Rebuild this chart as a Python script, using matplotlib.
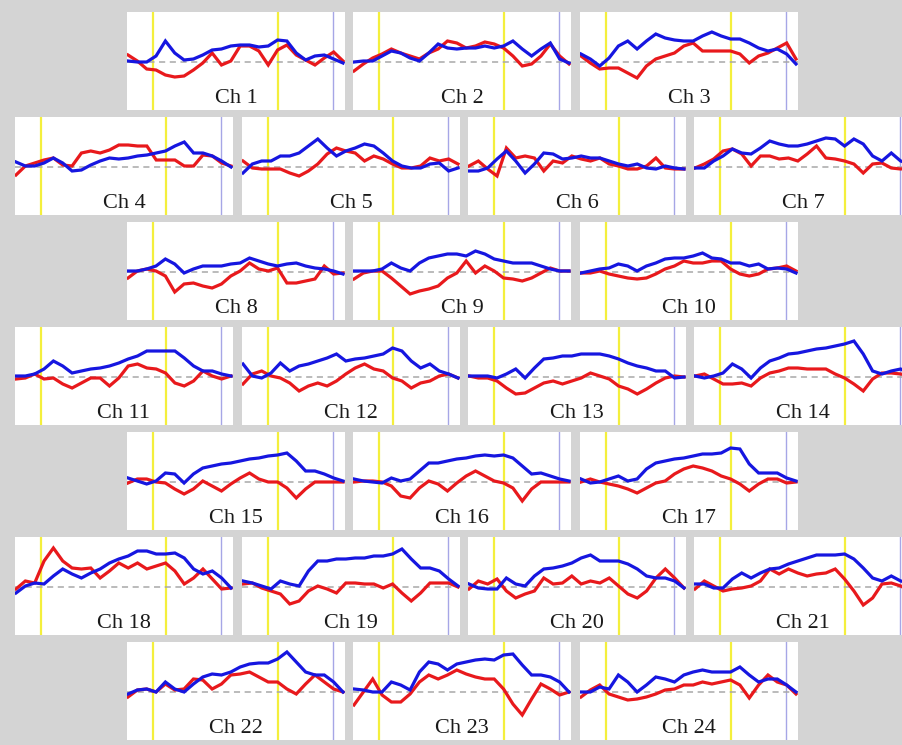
import numpy as np
import matplotlib
matplotlib.use("Agg")
import matplotlib.pyplot as plt

# ---- data: signal change per channel (arbitrary units), sampled on a common time grid ----
time_s = np.linspace(-5, 38, 24)
task_onset, task_offset, post_end = 0.0, 25.0, 36.0

red_ch1 = [7, 1, -7, -8, -13, -15, -14, -8, -1, 9, -3, 1, 16, 16, 11, -3, 12, 17, 7, 2, -3, 4, 10, 1]
blue_ch1 = [1, 0, 0, 6, 21, 9, 2, 3, 7, 12, 13, 16, 17, 17, 15, 16, 22, 21, 9, 2, 6, 7, 3, -1]
red_ch2 = [-9, -2, 4, 8, 13, 9, 6, 3, 9, 13, 21, 19, 14, 16, 20, 18, 14, 6, -4, -2, 6, 18, 6, -2]
blue_ch2 = [0, 1, 1, 6, 11, 9, 4, 1, 9, 18, 14, 13, 14, 14, 16, 14, 16, 21, 13, 6, 13, 19, 3, -1]
red_ch3 = [6, -1, -7, -6, -6, -11, -16, -4, 3, 6, 9, 16, 19, 11, 11, 11, 11, 8, -1, 6, 9, 14, 19, 3]
blue_ch3 = [8, 3, -4, 4, 16, 21, 13, 21, 28, 24, 22, 21, 21, 26, 30, 26, 23, 23, 19, 14, 11, 13, 8, -2]
red_ch4 = [-8, 1, 4, 7, 9, 2, 1, 14, 16, 14, 17, 22, 22, 21, 21, 7, 7, 7, 1, 1, 12, 11, 4, 1]
blue_ch4 = [5, 1, 1, 4, 9, 4, -4, -3, 2, 6, 9, 8, 9, 11, 12, 14, 16, 21, 25, 14, 14, 11, 6, 0]
red_ch5 = [6, -1, -2, -2, -2, -6, -9, -4, 3, 13, 19, 16, 14, 6, 11, 8, 3, -1, -1, 1, 9, 6, 8, 3]
blue_ch5 = [-6, 3, 6, 6, 11, 11, 14, 21, 28, 19, 11, 16, 19, 23, 21, 14, 6, 1, -1, -1, 3, 4, -4, -1]
red_ch6 = [1, 6, -2, -9, 19, 9, 11, 9, -4, 6, 4, 11, 8, 6, 9, 3, 1, -2, -2, 1, 9, -1, -2, -2]
blue_ch6 = [-4, -4, -1, 8, 16, 6, -6, 3, 14, 13, 8, 9, 11, 9, 9, 6, 3, 1, 3, -1, -2, 1, -1, -2]
red_ch7 = [-1, 3, 8, 16, 18, 13, 1, 11, 11, 8, 9, 6, 13, 21, 9, 8, 6, 3, -6, 3, 4, -1, -2, -1]
blue_ch7 = [-1, -1, 6, 11, 18, 14, 13, 19, 26, 23, 21, 21, 23, 26, 29, 28, 21, 28, 23, 11, 6, 14, 6, 3]
red_ch8 = [-6, 1, 3, 1, -4, -20, -12, -11, -14, -16, -12, -4, 1, 9, 3, 1, 4, -11, -11, -9, -7, 6, -2, -1]
blue_ch8 = [1, 1, 3, 6, 13, 8, -1, 3, 6, 6, 6, 8, 9, 14, 11, 8, 6, 8, 9, 6, 4, 3, 1, -2]
red_ch9 = [-7, -1, 1, 1, -6, -14, -22, -19, -17, -14, -6, -1, 11, -1, 6, 1, -6, -7, -9, -6, -1, 4, 1, 1]
blue_ch9 = [1, 1, 1, 3, 9, 4, 1, 9, 14, 16, 18, 18, 16, 21, 18, 13, 11, 9, 9, 9, 6, 3, 1, 1]
red_ch10 = [-1, -1, 1, -2, -4, -6, -7, -6, -2, 3, 6, 11, 9, 9, 11, 11, 3, -2, -4, -2, 3, 4, 6, 1]
blue_ch10 = [-1, 1, 3, 4, 8, 6, 1, 6, 9, 13, 14, 14, 16, 19, 14, 13, 9, 9, 6, 8, 3, 4, 3, -1]
red_ch11 = [-2, -1, 3, -2, -1, -7, -11, -6, -1, -1, -9, -1, 11, 13, 9, 8, 4, -6, -9, -4, 6, 1, -2, 1]
blue_ch11 = [1, 1, 3, 8, 16, 11, 4, 6, 8, 9, 11, 14, 18, 21, 26, 26, 26, 26, 19, 11, 6, 6, 3, 1]
red_ch12 = [-7, 3, 6, 1, -1, -6, -14, -9, -6, -9, -4, 3, 9, 13, 8, 6, -1, -4, -11, -6, -4, 1, 3, -1]
blue_ch12 = [13, 1, -1, 4, 14, 6, 11, 13, 16, 19, 23, 16, 18, 19, 21, 23, 29, 26, 16, 9, 13, 6, 3, -1]
red_ch13 = [1, -1, -1, -4, -11, -17, -16, -11, -6, -4, -7, -4, -1, 4, 1, -2, -9, -12, -17, -12, -6, -1, 1, 0]
blue_ch13 = [1, 1, 1, -1, 3, 8, -1, 9, 18, 19, 21, 21, 23, 23, 23, 21, 18, 14, 11, 9, 6, 6, -1, 0]
red_ch14 = [1, 3, -2, -7, -7, -6, -9, -1, 4, 6, 9, 9, 8, 8, 8, 3, -1, -7, -14, -2, 4, 4, 3, 1]
blue_ch14 = [1, -1, 1, 4, 13, 8, -1, 9, 16, 19, 23, 24, 26, 28, 29, 31, 33, 36, 23, 6, 3, 6, 8, 3]
red_ch15 = [-1, 3, 3, 0, -1, -7, -12, -7, 1, -4, -9, -2, 4, 9, 3, 0, 0, -6, -16, -7, 0, 0, 0, 0]
blue_ch15 = [4, 1, -2, 1, 9, 8, -1, 8, 14, 16, 18, 19, 21, 23, 24, 26, 27, 29, 21, 11, 11, 8, 4, 1]
red_ch16 = [0, 1, 1, 0, -4, -14, -16, -6, 1, -2, -9, -1, 6, 11, 6, 1, -1, -6, -19, -7, 0, 0, 0, 0]
blue_ch16 = [3, 1, 0, -1, 4, 1, 3, 11, 19, 19, 21, 23, 24, 26, 27, 26, 27, 24, 16, 8, 9, 6, 3, 1]
red_ch17 = [0, 3, 0, -2, -4, -7, -11, -6, -1, 1, 8, 13, 16, 14, 11, 6, 3, -2, -9, -2, 3, 3, -1, 0]
blue_ch17 = [3, -1, 0, 3, 6, 1, 3, 13, 19, 21, 23, 24, 26, 28, 28, 29, 34, 33, 18, 9, 9, 9, 4, 1]
red_ch18 = [-2, 6, 4, 26, 39, 26, 19, 18, 19, 9, 16, 24, 19, 24, 18, 21, 24, 16, 3, 9, 18, 8, -2, -1]
blue_ch18 = [-6, 1, 4, 3, 11, 18, 13, 9, 14, 18, 24, 28, 31, 36, 36, 33, 33, 34, 29, 18, 13, 16, 9, -1]
red_ch19 = [3, 4, -1, -4, -7, -17, -14, -4, 1, -2, -6, 4, 4, 3, 3, -1, 3, -6, -14, -6, 4, 4, 4, 0]
blue_ch19 = [6, 4, 1, -2, 6, 3, 1, 16, 26, 26, 28, 28, 29, 29, 31, 31, 33, 38, 28, 19, 19, 16, 8, 1]
red_ch20 = [-2, 6, 3, 8, -4, -11, -7, -4, 9, 3, 4, 11, 3, 6, 4, 9, 1, -7, -11, -4, 9, 18, 9, -1]
blue_ch20 = [3, -1, -2, -2, 9, 3, 1, 11, 18, 19, 21, 24, 29, 32, 26, 26, 26, 23, 18, 11, 9, 9, 6, -1]
red_ch21 = [-2, 6, 1, -4, -2, -1, 1, 6, 18, 13, 18, 14, 11, 13, 14, 18, 8, -4, -18, -11, 3, 4, 1, -4]
blue_ch21 = [3, 3, -1, -1, 8, 14, 9, 14, 18, 19, 23, 26, 29, 32, 32, 32, 33, 28, 19, 9, 6, 11, 6, 4]
red_ch22 = [-5, 2, 3, 0, 8, 2, 3, 13, 12, 3, 8, 17, 18, 20, 15, 10, 10, 3, -2, 8, 17, 10, 3, 0]
blue_ch22 = [-2, 2, 3, 0, 10, 3, 0, 8, 15, 18, 17, 20, 25, 28, 29, 29, 33, 40, 30, 20, 17, 17, 10, 0]
red_ch23 = [-13, 0, 13, -3, -10, -10, -2, 10, 17, 13, 17, 22, 18, 15, 13, 13, 3, -12, -23, -7, 8, 3, -3, 0]
blue_ch23 = [3, 2, 0, 0, 10, 7, 2, 20, 30, 28, 22, 28, 30, 32, 33, 32, 37, 38, 27, 17, 17, 15, 10, 0]
red_ch24 = [-5, 2, 7, -2, -5, -8, -7, -5, -2, 2, 3, 7, 7, 10, 8, 10, 12, 7, -6, 7, 17, 10, 7, -2]
blue_ch24 = [0, 0, 5, 3, 17, 10, 0, 7, 15, 13, 10, 17, 20, 22, 20, 20, 20, 25, 17, 10, 13, 13, 7, 0]

channel_labels = [f"Ch {i}" for i in range(1, 25)]
red_series = [red_ch1, red_ch2, red_ch3, red_ch4, red_ch5, red_ch6, red_ch7, red_ch8,
              red_ch9, red_ch10, red_ch11, red_ch12, red_ch13, red_ch14, red_ch15, red_ch16,
              red_ch17, red_ch18, red_ch19, red_ch20, red_ch21, red_ch22, red_ch23, red_ch24]
blue_series = [blue_ch1, blue_ch2, blue_ch3, blue_ch4, blue_ch5, blue_ch6, blue_ch7, blue_ch8,
               blue_ch9, blue_ch10, blue_ch11, blue_ch12, blue_ch13, blue_ch14, blue_ch15, blue_ch16,
               blue_ch17, blue_ch18, blue_ch19, blue_ch20, blue_ch21, blue_ch22, blue_ch23, blue_ch24]

# ---- layout (pixels) ----
W, H = 903, 745
row_tops = [12, 117, 222, 327, 432, 537, 642]
lefts3 = [127, 353, 580]
lefts4 = [15, 242, 468, 694]
PW, PH = 218, 98

fig = plt.figure(figsize=(W / 100, H / 100), dpi=100, facecolor="#d4d4d4")

positions = []
for r, top in enumerate(row_tops):
    lefts = lefts3 if r % 2 == 0 else lefts4
    for left in lefts:
        positions.append((left, top))

for k, (left, top) in enumerate(positions):
    ax = fig.add_axes([left / W, 1 - (top + PH) / H, PW / W, PH / H])
    ax.set_facecolor("white")
    ax.set_xlim(-5.2, -5.2 + PW / 5.0)
    ax.set_ylim(-48, 50)
    for s in ax.spines.values():
        s.set_visible(False)
    ax.set_xticks([])
    ax.set_yticks([])
    ax.axvline(task_onset, color="#f4ef3c", lw=1.6, zorder=1)
    ax.axvline(task_offset, color="#f4ef3c", lw=1.6, zorder=1)
    ax.axvline(post_end, color="#a6a6e6", lw=1.0, zorder=1)
    ax.axhline(0, color="#a8a8a8", lw=1.1, ls=(0, (4, 3)), zorder=2)
    ax.plot(time_s, red_series[k], color="#e8191c", lw=2.3, zorder=3,
            solid_joinstyle="miter")
    ax.plot(time_s, blue_series[k], color="#1616e0", lw=2.3, zorder=4,
            solid_joinstyle="miter")
    ax.text(0.5, 0.075, channel_labels[k], transform=ax.transAxes,
            ha="center", va="baseline", fontsize=16,
            family=["Liberation Serif", "DejaVu Serif"], color="#1a1a1a")

fig.savefig("out.png", dpi=100, facecolor=fig.get_facecolor())
